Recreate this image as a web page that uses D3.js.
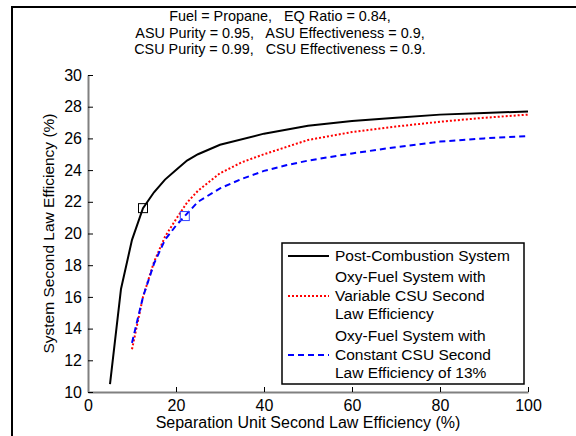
<!DOCTYPE html>
<html>
<head>
<meta charset="utf-8">
<script src="https://cdn.jsdelivr.net/npm/d3@7"></script>
<style>
  body { margin: 0; background: #fff; }
  text { font-family: "Liberation Sans", Arial, sans-serif; fill: #000; }
</style>
</head>
<body>
<script>
// title lines
let titleLines = [
  "Fuel = Propane,   EQ Ratio = 0.84,",
  "ASU Purity = 0.95,   ASU Effectiveness = 0.9,",
  "CSU Purity = 0.99,   CSU Effectiveness = 0.9."
]
let xTicks = [0, 20, 40, 60, 80, 100]
let yTicks = [10, 12, 14, 16, 18, 20, 22, 24, 26, 28, 30]

// Post-Combustion System
let xPost = [5, 7.5, 10, 12.5, 15, 17.5, 20, 22.5, 25, 30, 40, 50, 60, 70, 80, 90, 100]
let yPost = [10.5, 16.5, 19.6, 21.6, 22.6, 23.4, 24.0, 24.6, 25.0, 25.6, 26.3, 26.8, 27.1, 27.3, 27.5, 27.6, 27.7]

// Oxy-Fuel, variable CSU eff.
let xVar = [10, 12.5, 15, 17.5, 20, 22.5, 25, 30, 35, 40, 50, 60, 70, 80, 90, 100]
let yVar = [12.7, 16.0, 18.2, 19.8, 20.9, 21.95, 22.7, 23.8, 24.5, 25.0, 25.9, 26.4, 26.75, 27.05, 27.3, 27.5]

// Oxy-Fuel, constant CSU eff. 13%
let xConst = [10, 12.5, 15, 17.5, 20, 22.5, 25, 30, 35, 40, 45, 50, 60, 70, 80, 90, 100]
let yConst = [13.1, 16.0, 18.1, 19.6, 20.5, 21.25, 22.0, 22.85, 23.45, 23.95, 24.3, 24.6, 25.05, 25.45, 25.8, 26.0, 26.15]

// square markers
let markPost = [12.5, 21.6]
let markConst = [22, 21.1]

let legendLabels = [
  ["Post-Combustion System"],
  ["Oxy-Fuel System with", "Variable CSU Second", "Law Efficiency"],
  ["Oxy-Fuel System with", "Constant CSU Second", "Law Efficiency of 13%"]
]

const width = 576, height = 436

let svg = d3.select("body").append("svg")
  .attr("width", width)
  .attr("height", height)

// figure frame (cropped: only top and left visible)
svg.append("path")
  .attr("d", "M12 436V7H576")
  .attr("fill", "none")
  .attr("stroke", "#000")
  .attr("stroke-width", 2)

let x = d3.scaleLinear().domain([0, 100]).range([88, 528])
let y = d3.scaleLinear().domain([10, 30]).range([392, 75])

// title
svg.append("g").selectAll("text")
  .data(titleLines)
  .enter()
  .append("text")
    .attr("x", 280)
    .attr("y", (d, i) => 21 + i * 16.5)
    .attr("text-anchor", "middle")
    .style("white-space", "pre")
    .style("font-size", "14.4px")
    .text(d => d)

// axes
let xAxis = svg.append("g")
  .attr("transform", `translate(0,${y(10)})`)
  .call(d3.axisTop(x).tickValues(xTicks).tickSize(5).tickSizeOuter(0).tickFormat(d3.format("d")))
let yAxis = svg.append("g")
  .attr("transform", `translate(${x(0)},0)`)
  .call(d3.axisRight(y).tickValues(yTicks).tickSize(5).tickSizeOuter(0).tickFormat(d3.format("d")))

function styleAxis(g) {
  g.select(".domain").attr("stroke", "#808080").attr("stroke-width", 2)
  g.selectAll(".tick line").attr("stroke", "#000")
  g.selectAll(".tick text").style("font-size", "16px").attr("fill", "#000")
}
styleAxis(xAxis)
styleAxis(yAxis)
xAxis.selectAll(".tick text").attr("y", 19).attr("dy", 0)
yAxis.selectAll(".tick text").attr("x", -6).attr("text-anchor", "end")

// axis labels
svg.append("text")
  .attr("x", x(50))
  .attr("y", 428)
  .attr("text-anchor", "middle")
  .style("font-size", "16px")
  .text("Separation Unit Second Law Efficiency (%)")
svg.append("text")
  .attr("transform", `translate(54,${y(20)}) rotate(-90)`)
  .attr("text-anchor", "middle")
  .style("font-size", "15.5px")
  .text("System Second Law Efficiency (%)")

// lines
let line = d3.line().x(d => x(d[0])).y(d => y(d[1]))
function drawSeries(xs, ys, color, dash) {
  svg.append("path")
    .datum(d3.zip(xs, ys))
    .attr("d", line)
    .attr("fill", "none")
    .attr("stroke", color)
    .attr("stroke-width", 2)
    .attr("stroke-dasharray", dash)
}
drawSeries(xPost, yPost, "#000", null)
drawSeries(xVar, yVar, "#ff0000", "2,2")
drawSeries(xConst, yConst, "#0000ff", "6,4")

function drawMark(p, color) {
  svg.append("rect")
    .attr("x", x(p[0]) - 4.5)
    .attr("y", y(p[1]) - 4.5)
    .attr("width", 9)
    .attr("height", 9)
    .attr("fill", "none")
    .attr("stroke", color)
    .attr("stroke-width", 1)
}
drawMark(markPost, "#000")
drawMark(markConst, "#3344ff")

// legend
let legend = svg.append("g").attr("id", "legend")
legend.append("rect")
  .attr("x", 282).attr("y", 243)
  .attr("width", 242).attr("height", 141)
  .attr("fill", "#fff")
  .attr("stroke", "#000")
  .attr("stroke-width", 1.5)

let legendColors = ["#000", "#ff0000", "#0000ff"]
let legendDash = [null, "2,2", "6,4"]
let rowY = [[256], [277, 296, 314], [336, 355, 373]]
legendLabels.forEach((lines, k) => {
  let mid = rowY[k][Math.floor(lines.length / 2)]
  legend.append("line")
    .attr("x1", 288).attr("x2", 329)
    .attr("y1", mid).attr("y2", mid)
    .attr("stroke", legendColors[k])
    .attr("stroke-width", 2)
    .attr("stroke-dasharray", legendDash[k])
  lines.forEach((t, j) => {
    legend.append("text")
      .attr("x", 335)
      .attr("y", rowY[k][j])
      .attr("dy", "0.35em")
      .style("font-size", "15.5px")
      .text(t)
  })
})
</script>
</body>
</html>
